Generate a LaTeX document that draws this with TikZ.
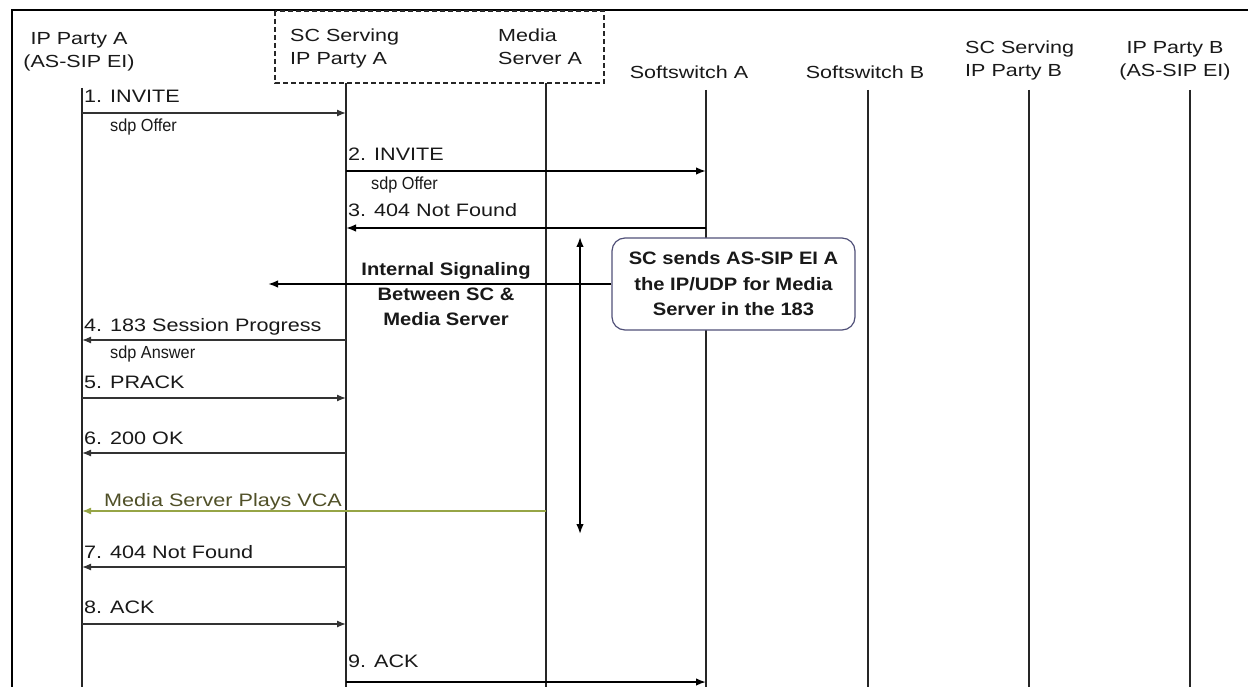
\documentclass[tikz,border=0pt]{standalone}
\usepackage{fontspec}
\setmainfont{Liberation Sans}
\newfontfamily\fw[FakeStretch=1.2]{Liberation Sans}
\newfontfamily\fh[FakeStretch=1.23]{Liberation Sans}
\newfontfamily\fs[FakeStretch=0.93]{Liberation Sans}
\newfontfamily\fb[FakeStretch=1.12]{Liberation Sans}
\usetikzlibrary{arrows.meta}
\definecolor{vcaline}{RGB}{150,165,70}
\definecolor{vcatext}{RGB}{80,80,40}
\definecolor{callbd}{RGB}{80,80,120}
\begin{document}
\begin{tikzpicture}[x=1pt,y=-1pt,
  hdr/.style={font=\fh\fontsize{17.5}{23}\selectfont, inner sep=0pt, text=black!90},
  lbl/.style={font=\fw\fontsize{18}{20}\selectfont, anchor=base west, inner sep=0pt, text=black!90},
  sdp/.style={font=\fs\fontsize{17.5}{20}\selectfont, anchor=base west, inner sep=0pt, text=black!90},
  life/.style={line width=1.6pt, draw=black!85},
  msg/.style={line width=1.3pt, draw=black!80, -{Latex[length=9pt,width=7pt]}},
  msgb/.style={line width=1.6pt, draw=black, -{Latex[length=10pt,width=7.5pt]}},
  vca/.style={line width=1.6pt, draw=vcaline, -{Latex[length=9pt,width=7pt]}},
  boxdash/.style={line width=1.5pt, dash pattern=on 5pt off 3pt, draw=black!85},
  callout/.style={draw=callbd, line width=1.2pt, fill=white, rounded corners=13pt,
    minimum width=243pt, minimum height=92pt, align=center, inner sep=0pt,
    font=\fb\bfseries\fontsize{18}{25.5}\selectfont, text=black!90},
  inttext/.style={align=center, inner sep=0pt, font=\fb\bfseries\fontsize{18}{25}\selectfont, text=black!90}
]
\useasboundingbox (0,0) rectangle (1248,687);
\fill[white] (0,0) rectangle (1248,687);
% frame
\draw[line width=2pt] (1248,10) -- (12,10) -- (12,687);
% dashed group box
\draw[boxdash] (275,11) rectangle (604,83);

% lifeline x positions
\def\xA{82}\def\xSC{346}\def\xMS{546}\def\xSwA{706}\def\xSwB{868}\def\xSCB{1029}\def\xB{1190}

% headers
\node[hdr, align=center, anchor=north] (hA) at (79,32) {IP Party A\\(AS-SIP EI)};
\node[hdr, align=left, anchor=north west] (hSC) at (290,29) {SC Serving\\IP Party A};
\node[hdr, align=left, anchor=north west] (hMS) at (498,29) {Media\\Server A};
\node[hdr, anchor=base] (hSwA) at (689,79) {Softswitch A};
\node[hdr, anchor=base] (hSwB) at (865,79) {Softswitch B};
\node[hdr, align=left, anchor=north west] (hSCB) at (965,41) {SC Serving\\IP Party B};
\node[hdr, align=center, anchor=north] (hB) at (1175,41) {IP Party B\\(AS-SIP EI)};

% lifelines
\coordinate (At) at (\xA,88);   \coordinate (Ab) at (\xA,687);
\coordinate (SCt) at (\xSC,83); \coordinate (SCb) at (\xSC,687);
\coordinate (MSt) at (\xMS,83); \coordinate (MSb) at (\xMS,687);
\coordinate (SwAt) at (\xSwA,90); \coordinate (SwAb) at (\xSwA,687);
\coordinate (SwBt) at (\xSwB,90); \coordinate (SwBb) at (\xSwB,687);
\coordinate (SCBt) at (\xSCB,90); \coordinate (SCBb) at (\xSCB,687);
\coordinate (Bt) at (\xB,90);   \coordinate (Bb) at (\xB,687);
\foreach \p in {A,SC,MS,SwA,SwB,SCB,B} {\draw[life] (\p t) -- (\p b);}

% callout
\node[callout] (call) at (733.5,284) {SC sends AS-SIP EI A\\the IP/UDP for Media\\Server in the 183};

% internal signaling
\coordinate (intEnd) at (268,284);
\draw[msgb] (call.west) -- (intEnd);
\node[inttext, anchor=north] (intT) at (446,262) {Internal Signaling\\Between SC \&\\Media Server};

% double arrow
\coordinate (dT) at (580,237);
\coordinate (dB) at (580,534);
\draw[line width=1.6pt, {Latex[length=10pt,width=7.5pt]}-{Latex[length=10pt,width=7.5pt]}] (dT) -- (dB);

% messages
\coordinate (m1a) at (\xA,113); \coordinate (m1b) at (\xSC,113);
\draw[msg] (m1a) -- (m1b);
\node[lbl] (l1) at (84,103) {1. INVITE};
\node[sdp] (s1) at (110,132) {sdp Offer};

\coordinate (m2a) at (\xSC,171); \coordinate (m2b) at (\xSwA,171);
\draw[msgb] (m2a) -- (m2b);
\node[lbl] (l2) at (348,161) {2. INVITE};
\node[sdp] (s2) at (371,190) {sdp Offer};

\coordinate (m3a) at (\xSwA,228); \coordinate (m3b) at (\xSC,228);
\draw[msgb] (m3a) -- (m3b);
\node[lbl] (l3) at (348,217) {3. 404 Not Found};

\coordinate (m4a) at (\xSC,340); \coordinate (m4b) at (\xA,340);
\draw[msg] (m4a) -- (m4b);
\node[lbl] (l4) at (84,331) {4. 183 Session Progress};
\node[sdp] (s4) at (110,358) {sdp Answer};

\coordinate (m5a) at (\xA,398); \coordinate (m5b) at (\xSC,398);
\draw[msg] (m5a) -- (m5b);
\node[lbl] (l5) at (84,388) {5. PRACK};

\coordinate (m6a) at (\xSC,453); \coordinate (m6b) at (\xA,453);
\draw[msg] (m6a) -- (m6b);
\node[lbl] (l6) at (84,444) {6. 200 OK};

\coordinate (mva) at (\xMS,511); \coordinate (mvb) at (\xA,511);
\draw[vca] (mva) -- (mvb);
\node[lbl, text=vcatext] (lv) at (104,506) {Media Server Plays VCA};

\coordinate (m7a) at (\xSC,567); \coordinate (m7b) at (\xA,567);
\draw[msg] (m7a) -- (m7b);
\node[lbl] (l7) at (84,558) {7. 404 Not Found};

\coordinate (m8a) at (\xA,624); \coordinate (m8b) at (\xSC,624);
\draw[msg] (m8a) -- (m8b);
\node[lbl] (l8) at (84,613) {8. ACK};

\coordinate (m9a) at (\xSC,682); \coordinate (m9b) at (\xSwA,682);
\draw[msgb] (m9a) -- (m9b);
\node[lbl] (l9) at (348,667) {9. ACK};
\end{tikzpicture}
\end{document}
